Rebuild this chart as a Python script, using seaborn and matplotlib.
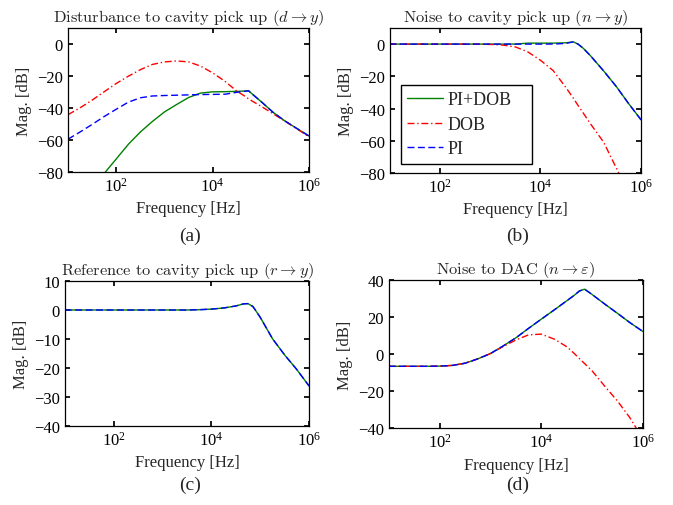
import matplotlib
matplotlib.use("Agg")
import matplotlib.pyplot as plt
from matplotlib.ticker import NullLocator
import seaborn as sns

# frequency grid the curves were read at (Hz)
freq_hz = [10, 18, 32, 56, 100, 180, 320, 560, 1000, 1800, 3200, 5600,
           10000, 18000, 32000, 45000, 56000, 71000, 100000, 180000,
           320000, 560000, 1000000]

# (a) disturbance to cavity pick up, dB
a_pidob = [-112, -102, -92, -81, -71.9, -62.6, -54.9, -48.5, -42.5, -37.8, -33.4, -30.7,
           -29.9, -29.8, -29.6, -29.4, -29.3, -32.0, -35.8, -42.7, -48.2, -52.8, -57.5]
a_dob = [-44.2, -39.8, -35.0, -29.9, -24.7, -20.1, -16.0, -12.8, -11.2, -10.6, -11.2, -13.8,
         -18.0, -23.3, -29.5, -32.3, -34.3, -36.2, -38.8, -43.6, -48.3, -53.0, -58.0]
a_pi = [-59.5, -54.9, -50.2, -45.4, -40.8, -36.3, -33.6, -32.5, -32.2, -32.0, -31.8, -31.6,
        -31.5, -31.4, -30.2, -29.6, -29.3, -32.0, -35.8, -42.7, -48.2, -52.8, -57.5]

# (b) noise to cavity pick up
b_pidob = [0, 0, 0, 0, 0, 0, 0, 0, 0, 0, 0.05, 0.6,
           0.6, 0.6, 0.8, 1.4, 0.0, -2.6, -7.4, -16.6, -26.2, -36.7, -47.0]
b_dob = [0, 0, 0, 0, 0, 0, 0, -0.05, -0.2, -0.6, -1.8, -4.8,
         -10.0, -16.5, -26.9, -33.5, -38.1, -42.8, -49.7, -60.8, -76.7, -92.0, -108.0]
b_pi = [0, 0, 0, 0, 0, 0, 0, 0, 0, 0, 0, 0,
        0, 0.05, 0.4, 1.4, 0.0, -2.6, -7.4, -16.6, -26.2, -36.7, -47.0]

# (c) reference to cavity pick up
c_pidob = [0, 0, 0, 0, 0, 0, 0, 0, 0, 0, 0, 0.1,
           0.3, 0.7, 1.4, 2.1, 2.2, 1.2, -2.5, -10.0, -15.6, -20.5, -26.2]
c_pi = [0, 0, 0, 0, 0, 0, 0, 0, 0, 0, 0, 0.1,
        0.3, 0.7, 1.4, 2.1, 2.2, 1.2, -2.5, -10.0, -15.6, -20.5, -26.2]

# (d) noise to DAC
d_pidob = [-6.5, -6.5, -6.5, -6.5, -6.4, -6.0, -4.8, -2.5, 0.4, 4.6, 9.0, 14.0,
           19.0, 24.0, 29.0, 32.0, 34.2, 35.2, 32.3, 27.0, 22.0, 17.0, 12.3]
d_dob = [-6.5, -6.5, -6.5, -6.5, -6.4, -6.0, -4.8, -2.5, 0.4, 4.3, 7.8, 10.5,
         10.9, 8.2, 4.0, 0.3, -2.3, -5.0, -9.0, -17.5, -25.5, -34.5, -46.0]
d_pi = [-6.5, -6.5, -6.5, -6.5, -6.4, -6.0, -4.8, -2.5, 0.4, 4.6, 9.0, 14.0,
        19.0, 24.0, 29.0, 32.0, 34.2, 35.2, 32.3, 27.0, 22.0, 17.0, 12.3]

series_names = ["PI+DOB", "DOB", "PI"]
titles = [r"Disturbance to cavity pick up $(d \rightarrow y)$",
          r"Noise to cavity pick up $(n \rightarrow y)$",
          r"Reference to cavity pick up $(r \rightarrow y)$",
          r"Noise to DAC $(n \rightarrow \varepsilon)$"]
panel_tags = ["(a)", "(b)", "(c)", "(d)"]

sns.set_theme(style="ticks")
plt.rcParams.update({
    "font.family": ["Liberation Serif", "DejaVu Serif"],
    "mathtext.fontset": "stix",
    "xtick.direction": "in", "ytick.direction": "in",
    "xtick.top": True, "ytick.right": True,
    "xtick.major.size": 3.5, "ytick.major.size": 3.5,
    "xtick.labelsize": 12, "ytick.labelsize": 12,
    "axes.labelsize": 12,
    "axes.edgecolor": "black", "axes.linewidth": 0.9,
    "xtick.color": "black", "ytick.color": "black",
})

styles = {
    "PI+DOB": dict(color="#008000", linestyle="-"),
    "DOB": dict(color="#ff0000", dashes=(5, 2, 1, 2)),
    "PI": dict(color="#0000ff", dashes=(5, 2.5)),
}

fig_w, fig_h = 673, 506
fig = plt.figure(figsize=(fig_w / 100, fig_h / 100), dpi=100)
rects = [[0.1010, 0.6581, 0.3581, 0.2846],
         [0.5788, 0.6561, 0.3737, 0.2866],
         [0.0963, 0.1561, 0.3629, 0.2866],
         [0.5777, 0.1516, 0.3777, 0.2925]]
panels = [
    {"PI+DOB": a_pidob, "DOB": a_dob, "PI": a_pi},
    {"PI+DOB": b_pidob, "DOB": b_dob, "PI": b_pi},
    {"PI+DOB": c_pidob, "PI": c_pi},
    {"PI+DOB": d_pidob, "DOB": d_dob, "PI": d_pi},
]
ylims = [(-80, 10), (-80, 10), (-40, 10), (-40, 40)]
yticks = [[-80, -60, -40, -20, 0], [-80, -60, -40, -20, 0],
          [-40, -30, -20, -10, 0, 10], [-40, -20, 0, 20, 40]]
tag_pos = [(0.282, 0.533), (0.769, 0.533), (0.282, 0.040), (0.769, 0.040)]

for i in range(4):
    ax = fig.add_axes(rects[i])
    ax.set_xscale("log")
    for name in series_names:
        if name not in panels[i]:
            continue
        sns.lineplot(x=freq_hz, y=panels[i][name], ax=ax, linewidth=1.0,
                     label=name, legend=False, **styles[name])
    ax.set_xlim(10, 1e6)
    ax.set_ylim(*ylims[i])
    ax.set_xticks([1e2, 1e4, 1e6])
    ax.xaxis.set_minor_locator(NullLocator())
    ax.set_yticks(yticks[i])
    ax.set_xlabel("Frequency [Hz]")
    ax.set_ylabel("Mag. [dB]")
    ax.yaxis.set_label_coords(-36 / (rects[i][2] * fig_w), 0.5)
    ax.set_title(titles[i], fontsize=11.8, family="cmr10", math_fontfamily="cm", pad=5)
    fig.text(tag_pos[i][0], tag_pos[i][1], panel_tags[i], fontsize=14,
             ha="center", va="center")
    if i == 1:
        leg = ax.legend(loc="upper left", bbox_to_anchor=(0.0457, 0.307, 0.521, 0.3),
                        mode="expand", borderaxespad=0, fontsize=13, fancybox=False,
                        framealpha=1, edgecolor="black", handlelength=2.0,
                        handletextpad=0.2, labelspacing=0.42, borderpad=0.35)
        leg.get_frame().set_linewidth(1.0)

fig.savefig("out.png", dpi=100)
